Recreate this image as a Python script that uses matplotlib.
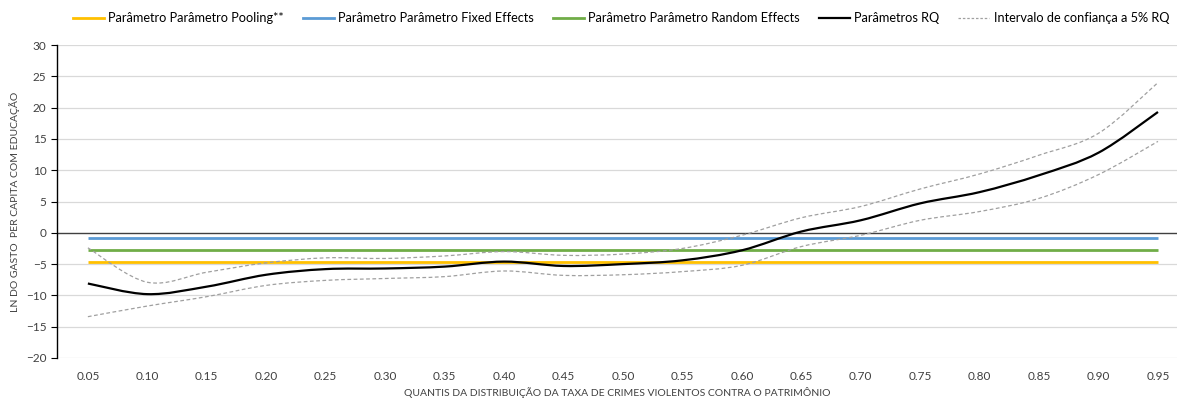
import numpy as np
import matplotlib.pyplot as plt
from matplotlib.path import Path
from matplotlib.patches import PathPatch

plt.rcParams['font.family'] = ['Lato', 'DejaVu Sans']

quantis = ['0.05', '0.10', '0.15', '0.20', '0.25', '0.30', '0.35', '0.40', '0.45', '0.50',
           '0.55', '0.60', '0.65', '0.70', '0.75', '0.80', '0.85', '0.90', '0.95']

pooling = -4.7
fixed_effects = -0.9
random_effects = -2.7

rq = [-8.1, -9.8, -8.6, -6.7, -5.8, -5.7, -5.4, -4.6, -5.3, -5.0,
      -4.4, -2.8, 0.2, 2.0, 4.7, 6.5, 9.2, 12.8, 19.3]
ic_sup = [-2.4, -7.9, -6.3, -4.8, -4.0, -4.1, -3.7, -3.0, -3.6, -3.4,
          -2.5, -0.4, 2.4, 4.2, 7.0, 9.4, 12.4, 15.9, 24.0]
ic_inf = [-13.4, -11.7, -10.2, -8.4, -7.6, -7.3, -7.0, -6.1, -6.8, -6.7,
          -6.2, -5.2, -2.2, -0.4, 2.0, 3.4, 5.5, 9.3, 14.6]

x = np.arange(len(quantis))


def smooth_path(xs, ys):
    # curva suavizada tipo Excel (Catmull-Rom -> Bezier)
    pts = np.column_stack([xs, ys]).astype(float)
    n = len(pts)
    verts = [pts[0]]
    codes = [Path.MOVETO]
    for i in range(n - 1):
        p0 = pts[i - 1] if i > 0 else pts[i]
        p1 = pts[i]
        p2 = pts[i + 1]
        p3 = pts[i + 2] if i + 2 < n else pts[i + 1]
        c1 = p1 + (p2 - p0) / 6
        c2 = p2 - (p3 - p1) / 6
        verts += [c1, c2, p2]
        codes += [Path.CURVE4] * 3
    return Path(verts, codes)


fig = plt.figure(figsize=(11.77, 4.0), dpi=100)
ax = fig.add_axes([0.0484, 0.105, 0.9516, 0.7825])

c_pool = '#FFC000'
c_fe = '#5B9BD5'
c_re = '#70AD47'
c_ic = '#A0A0A0'

for v in range(-20, 31, 5):
    if v != 0:
        ax.axhline(v, color='#D9D9D9', lw=0.9, zorder=0)
ax.axhline(0, color='#404040', lw=1.0, zorder=1)

n = len(x)
ax.plot(x, np.full(n, pooling), color=c_pool, lw=2.0, solid_capstyle='butt', zorder=2)
ax.plot(x, np.full(n, fixed_effects), color=c_fe, lw=2.0, solid_capstyle='butt', zorder=2)
ax.plot(x, np.full(n, random_effects), color=c_re, lw=2.0, solid_capstyle='butt', zorder=2)

ax.add_patch(PathPatch(smooth_path(x, rq), fill=False, edgecolor='black', lw=1.6, zorder=3))
ax.add_patch(PathPatch(smooth_path(x, ic_sup), fill=False, edgecolor=c_ic, lw=0.9,
                       linestyle=(0, (3, 2)), zorder=4))
ax.add_patch(PathPatch(smooth_path(x, ic_inf), fill=False, edgecolor=c_ic, lw=0.9,
                       linestyle=(0, (3, 2)), zorder=4))

# legenda
h1, = ax.plot([], [], color=c_pool, lw=2.0, label='Parâmetro Parâmetro Pooling**')
h2, = ax.plot([], [], color=c_fe, lw=2.0, label='Parâmetro Parâmetro Fixed Effects')
h3, = ax.plot([], [], color=c_re, lw=2.0, label='Parâmetro Parâmetro Random Effects')
h4, = ax.plot([], [], color='black', lw=1.6, label='Parâmetros RQ')
h5, = ax.plot([], [], color=c_ic, lw=0.9, linestyle=(0, (2, 1.5)), label='Intervalo de confiança a 5% RQ')
fig.legend(handles=[h1, h2, h3, h4, h5], loc='center', bbox_to_anchor=(0.5276, 0.955),
           ncol=5, frameon=False, fontsize=9.2, handlelength=2.4, columnspacing=1.5,
           handletextpad=0.35, borderpad=0, borderaxespad=0)

ax.set_xlim(-0.52, 18.32)
ax.set_ylim(-20, 30)
ax.set_xticks(x)
ax.set_xticklabels(quantis)
ax.set_yticks(range(-20, 31, 5))
ax.tick_params(axis='x', length=0, pad=9, labelsize=8.5, colors='#404040')
ax.tick_params(axis='y', length=4, width=0.8, direction='out', labelsize=8.5, colors='black',
               labelcolor='#404040')

for s in ['top', 'right', 'bottom']:
    ax.spines[s].set_visible(False)
ax.spines['left'].set_color('black')
ax.spines['left'].set_linewidth(1.0)

ax.set_xlabel('QUANTIS DA DISTRIBUIÇÃO DA TAXA DE CRIMES VIOLENTOS CONTRA O PATRIMÔNIO',
              fontsize=7.5, color='#404040', labelpad=4)
ax.set_ylabel('LN DO GASTO  PER CAPITA COM EDUCAÇÃO', fontsize=7.5, color='#404040', labelpad=4)

fig.savefig('out.png', dpi=100)
